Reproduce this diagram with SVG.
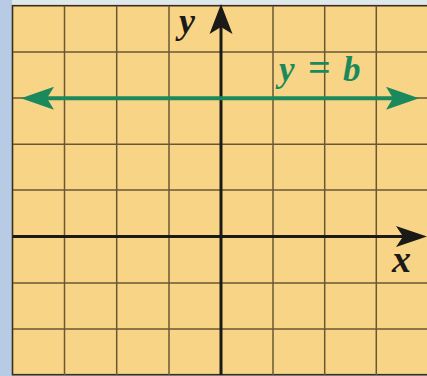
<svg xmlns="http://www.w3.org/2000/svg" width="427" height="376" viewBox="0 0 427 376">
<style>
.grid{stroke:#6a5733;stroke-width:1.5;fill:none}
.axis{stroke:#1b1a17;stroke-width:3;fill:none}
.green{stroke:#1a8a5c;stroke-width:4;fill:none}
.lbl{font-family:"Liberation Serif","DejaVu Serif",serif;font-style:italic;font-weight:bold}
</style>
<rect x="0" y="0" width="427" height="376" fill="#b7cbe4"/>
<rect x="12" y="0" width="415" height="6" fill="#dfe8ea"/>
<g id="grid">
<rect x="12.5" y="5.7" width="420" height="369" fill="#f8d486" stroke="#3a2f1c" stroke-width="1.6"/>
<path class="grid" d="M64.5 6V375M116.7 6V375M169 6V375M273 6V375M324.7 6V375M376.3 6V375M13 52H427M13 98H427M13 144.3H427M13 190H427M13 283H427M13 329H427"/>
</g>
<g id="connectors">
<g id="x-axis">
<line class="axis" x1="13" y1="236.5" x2="405" y2="236.5"/>
<path d="M427 236.5L396 226L403 236.5L396 247Z" fill="#1b1a17"/>
</g>
<g id="y-axis">
<line class="axis" x1="221" y1="375" x2="221" y2="26"/>
<path d="M221 4L209.5 34L221 27L232.5 34Z" fill="#1b1a17"/>
</g>
<g id="line-yb">
<line class="green" x1="45" y1="98.3" x2="396" y2="98.3"/>
<path d="M21 98.3L54 86.8L47 98.3L54 109.8Z" fill="#1a8a5c"/>
<path d="M419 98.3L386 86.8L393 98.3L386 109.8Z" fill="#1a8a5c"/>
</g>
</g>
<g id="labels">
<text class="lbl" x="179" y="33" font-size="36" fill="#1b1a17">y</text>
<text class="lbl" x="392" y="272" font-size="38" fill="#1b1a17">x</text>
<text class="lbl" y="81" font-size="35" fill="#1a8a5c"><tspan x="279">y</tspan><tspan x="308" font-style="normal" font-size="40">=</tspan><tspan x="343">b</tspan></text>
</g>
</svg>
